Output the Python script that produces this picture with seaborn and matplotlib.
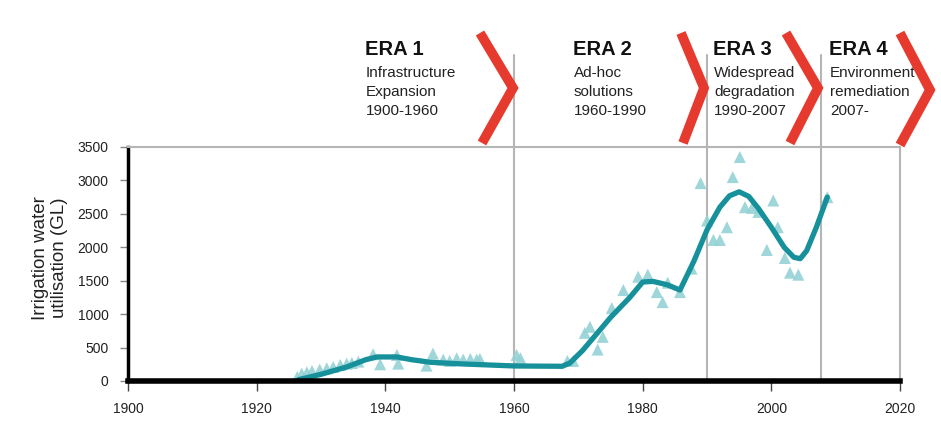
import matplotlib
matplotlib.use("Agg")
import matplotlib.pyplot as plt
import seaborn as sns
import pandas as pd
from matplotlib import font_manager

# ---------------- data ----------------
obs_years = [1926.3, 1927.0, 1927.8, 1928.6, 1929.8, 1930.9, 1931.9, 1933.0, 1934.0, 1934.8,
             1935.8, 1938.1, 1939.2, 1941.8, 1942.0, 1946.4, 1947.4, 1949.0, 1950.0, 1951.1,
             1952.1, 1953.2, 1954.2, 1954.7, 1960.4, 1961.0,
             1968.3, 1969.2, 1971.0, 1971.8, 1973.0, 1973.8, 1975.2, 1977.0, 1979.3, 1980.8,
             1982.2, 1983.1, 1983.9, 1985.8, 1987.6, 1989.0,
             1990.0, 1991.0, 1992.0, 1993.1, 1994.0, 1995.1, 1995.9, 1997.0, 1998.0, 1999.3,
             2000.3, 2001.0, 2002.1, 2002.9, 2004.2, 2008.7]
obs_values = [60, 110, 130, 150, 170, 190, 210, 240, 260, 270,
              290, 400, 250, 390, 260, 230, 410, 320, 300, 340,
              320, 330, 320, 330, 390, 340,
              300, 300, 720, 810, 470, 660, 1090, 1360, 1560, 1590,
              1330, 1180, 1470, 1330, 1680, 2960,
              2400, 2110, 2110, 2300, 3050, 3350, 2600, 2590, 2530, 1960,
              2700, 2300, 1840, 1620, 1590, 2750]

trend_years = [1926.5, 1930, 1934, 1937, 1938.7, 1941.8, 1944, 1947, 1952, 1960,
               1967.5, 1968.7, 1970.7, 1975, 1978, 1980, 1981.6, 1983.8, 1985.8, 1988,
               1990, 1992, 1993.5, 1995, 1996.5, 1998, 2000, 2002, 2003.5, 2004.5,
               2005.5, 2007, 2008.7]
trend_values = [20, 100, 210, 320, 360, 360, 320, 280, 255, 225,
                220, 270, 460, 950, 1250, 1480, 1490, 1440, 1360, 1800,
                2260, 2600, 2770, 2830, 2760, 2580, 2300, 2000, 1850, 1830,
                1950, 2300, 2750]

era_titles = ["ERA 1", "ERA 2", "ERA 3", "ERA 4"]
era_subtitles = ["Infrastructure\nExpansion\n1900-1960",
                 "Ad-hoc\nsolutions\n1960-1990",
                 "Widespread\ndegradation\n1990-2007",
                 "Environment\nremediation\n2007-"]
era_bounds = [1960, 1990, 2007.7]

x_ticks = [1900, 1920, 1940, 1960, 1980, 2000, 2020]
y_ticks = [0, 500, 1000, 1500, 2000, 2500, 3000, 3500]
y_label = "Irrigation water\nutilisation (GL)"

# ---------------- style ----------------
sns.set_style("white")
names = {f.name for f in font_manager.fontManager.ttflist}
base_font = "Liberation Sans" if "Liberation Sans" in names else "DejaVu Sans"
plt.rcParams["font.family"] = [base_font, "DejaVu Sans"]

W, H = 941, 425
fig = plt.figure(figsize=(W / 100, H / 100), dpi=100)
ax_l, ax_r, ax_t, ax_b = 128, 900, 147, 381
ax = fig.add_axes([ax_l / W, 1 - ax_b / H, (ax_r - ax_l) / W, (ax_b - ax_t) / H])

x0, x1, y0, y1 = 1900, 2020, 0, 3500
ax.set_xlim(x0, x1)
ax.set_ylim(y0, y1)

def px2x(px):
    return x0 + (px - ax_l) / (ax_r - ax_l) * (x1 - x0)

def py2y(py):
    return y0 + (ax_b - py) / (ax_b - ax_t) * (y1 - y0)

line_col = "#16909a"
tri_col = "#94d2d5"

obs = pd.DataFrame({"year": obs_years, "value": obs_values})
trend = pd.DataFrame({"year": trend_years, "value": trend_values})

sns.scatterplot(data=obs, x="year", y="value", marker="^", s=75, color=tri_col,
                edgecolor="none", alpha=0.9, ax=ax, zorder=3, clip_on=False)
sns.lineplot(data=trend, x="year", y="value", color=line_col, lw=3.8, ax=ax,
             zorder=4, solid_capstyle="round")

# era separators
for b in era_bounds:
    ax.plot([b, b], [0, py2y(55)], color="#b5b5b5", lw=1.5, clip_on=False, zorder=1)

# chevrons
chev_col = "#e63a2e"
chevrons = [((480, 33), (513, 88), (482, 143)),
            ((681, 33), (704, 88), (683, 143)),
            ((786, 33), (818, 88), (790, 143)),
            ((900, 33), (930, 90), (900, 145))]
for top, tip, bot in chevrons:
    ax.plot([px2x(top[0]), px2x(tip[0]), px2x(bot[0])],
            [py2y(top[1]), py2y(tip[1]), py2y(bot[1])],
            color=chev_col, lw=7, clip_on=False, solid_joinstyle="miter",
            solid_capstyle="butt", zorder=5)

# era texts
text_x = [365, 573, 713, 829]
for tx, title, sub in zip(text_x, era_titles, era_subtitles):
    ax.text(px2x(tx), py2y(50), title, fontsize=14.5, fontweight="bold",
            ha="left", va="center", color="#111111", clip_on=False)
    ax.text(px2x(tx + 1), py2y(66), sub, fontsize=11, ha="left", va="top",
            color="#222222", linespacing=1.45, clip_on=False)

# spines
for s in ["top", "right"]:
    ax.spines[s].set_color("#b5b5b5")
    ax.spines[s].set_linewidth(1.5)
ax.spines["left"].set_color("black")
ax.spines["left"].set_linewidth(2.5)
ax.spines["bottom"].set_color("black")
ax.spines["bottom"].set_linewidth(4)
ax.spines["bottom"].set_zorder(6)

ax.set_xticks(x_ticks)
ax.set_yticks(y_ticks)
ax.set_xticklabels([str(t) for t in x_ticks])
ax.set_yticklabels([str(t) for t in y_ticks])
ax.tick_params(axis="y", direction="out", length=6, width=1, color="#888888",
               labelsize=10, pad=8, labelcolor="#222222", left=True)
ax.tick_params(axis="x", direction="out", length=7, width=1, color="#444444",
               labelsize=10, pad=8, labelcolor="#222222", bottom=True)
ax.set_xlabel("")
ax.set_ylabel("")

fig.text(50 / W, 1 - 258 / H, y_label, rotation=90, ha="center", va="center",
         multialignment="center", fontsize=13.5, color="#222222", linespacing=1.1)

fig.savefig("out.png", dpi=100, facecolor="white")
